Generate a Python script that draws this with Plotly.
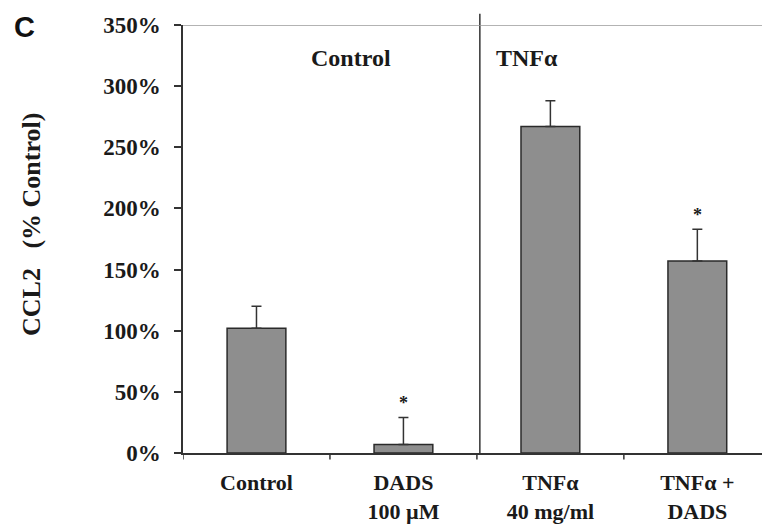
import plotly.graph_objects as go

# CCL2 secretion relative to untreated control
categories = ["Control", "DADS<br>100 µM", "TNFα<br>40 mg/ml", "TNFα +<br>DADS"]
ccl2_pct = [102, 7, 267, 157]
ccl2_err = [18, 22, 21, 26]
significant = [False, True, False, True]
y_ticks = [0, 50, 100, 150, 200, 250, 300, 350]
y_tick_text = [f"{v}%" for v in y_ticks]
group_labels = ["Control", "TNFα"]

serif = "Liberation Serif"
ink = "#1a1a1a"
xpos = list(range(len(categories)))

# plot-area geometry in pixels
L, R, T, B = 183, 0, 25, 75
W, H = 762, 528
pw, ph = W - L - R, H - T - B


def px_to_domain(px, py):
    return (px - L) / pw, (H - B - py) / ph


fig = go.Figure()
fig.add_trace(go.Bar(
    x=xpos,
    y=ccl2_pct,
    width=0.4,
    marker=dict(color="#8e8e8e", line=dict(color="#2a2a2a", width=1.5)),
    error_y=dict(type="data", array=ccl2_err, arrayminus=[0] * len(ccl2_err),
                 symmetric=False, color="#333333", thickness=1.5, width=5),
    showlegend=False,
    hoverinfo="skip",
))

# significance stars above the error bars
for i, (v, e, s) in enumerate(zip(ccl2_pct, ccl2_err, significant)):
    if s:
        fig.add_annotation(x=i, y=v + e + 12, xref="x", yref="y", text="*",
                           showarrow=False, yanchor="middle",
                           font=dict(family=serif, size=18, color=ink, weight="bold"))

# divider between the two treatment groups
fig.add_shape(type="line", xref="x", yref="paper", x0=1.52, x1=1.52, y0=0, y1=1.026,
              line=dict(color="#333333", width=1.5))
# top border at the axis maximum
fig.add_shape(type="line", xref="paper", yref="y", x0=0, x1=1, y0=350, y1=350,
              line=dict(color="#9a9a9a", width=1.5))

# group headings
fig.add_annotation(x=0.64, y=323, xref="x", yref="y", text=group_labels[0],
                   showarrow=False, font=dict(family=serif, size=24, color=ink, weight="bold"))
fig.add_annotation(x=1.84, y=323, xref="x", yref="y", text=group_labels[1],
                   showarrow=False, font=dict(family=serif, size=24, color=ink, weight="bold"))

# y-axis title
tx, ty = px_to_domain(31, 224)
fig.add_annotation(x=tx, y=ty, xref="x domain", yref="y domain", text="CCL2   (% Control)",
                   showarrow=False, textangle=-90, xanchor="center", yanchor="middle",
                   font=dict(family=serif, size=26, color=ink, weight="bold"))

# panel letter
cx, cy = px_to_domain(24, 27)
fig.add_annotation(x=cx, y=cy, xref="x domain", yref="y domain", text="C", showarrow=False,
                   xanchor="center", yanchor="middle",
                   font=dict(family="Liberation Sans", size=29, color="#111111", weight="bold"))

fig.update_layout(
    width=W, height=H,
    margin=dict(l=L, r=R, t=T, b=B),
    paper_bgcolor="white", plot_bgcolor="white",
    font=dict(family=serif, color=ink),
)
fig.update_xaxes(
    range=[-0.5, 3.44],
    tickmode="array", tickvals=xpos, ticktext=categories,
    tickfont=dict(family=serif, size=22, color=ink, weight="bold"),
    showline=True, linecolor="#333333", linewidth=1.5,
    ticks="", showgrid=False, zeroline=False,
    ticklabelstandoff=9,
)
# category boundary ticks on the x axis
for b in [-0.5, 0.5, 1.5, 2.5]:
    fig.add_shape(type="line", xref="x", yref="paper", x0=b, x1=b, y0=0, y1=-0.015,
                  line=dict(color="#333333", width=1.5))

fig.update_yaxes(
    range=[0, 350],
    tickmode="array", tickvals=y_ticks, ticktext=y_tick_text,
    tickfont=dict(family=serif, size=23, color=ink, weight="bold"),
    showline=True, linecolor="#333333", linewidth=1.5,
    ticks="outside", ticklen=7, tickwidth=1.5, tickcolor="#333333",
    showgrid=False, zeroline=False,
    ticklabelstandoff=9,
)

fig.write_html("out.html")
